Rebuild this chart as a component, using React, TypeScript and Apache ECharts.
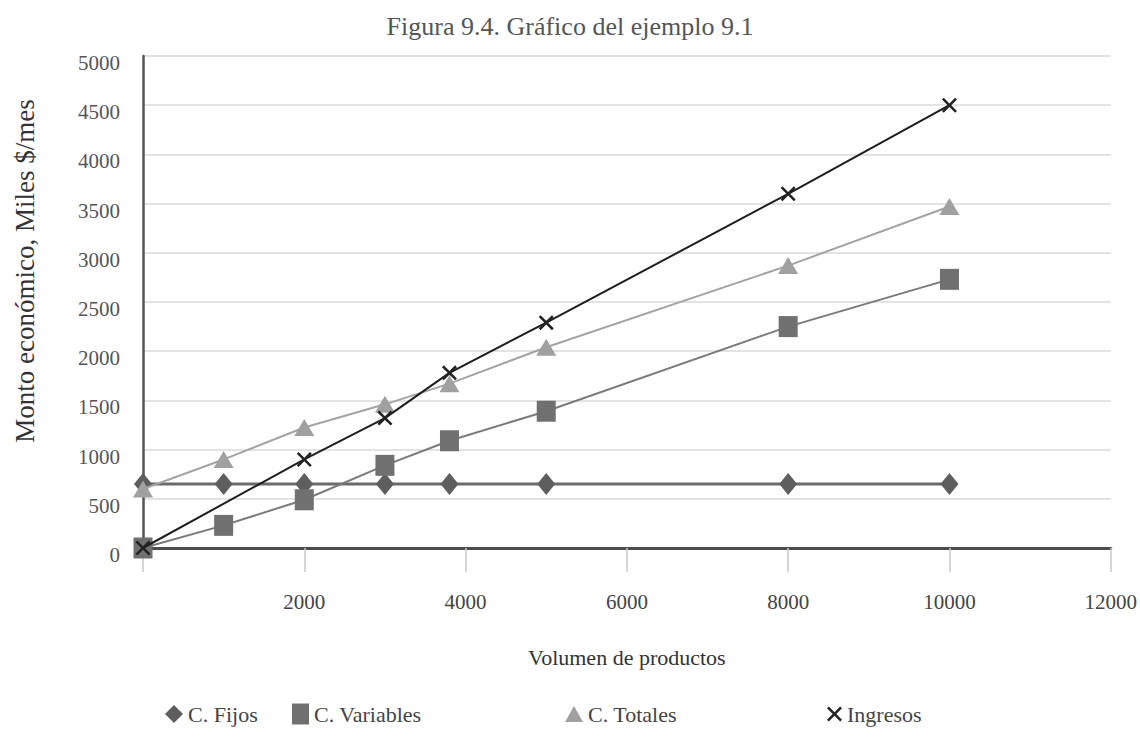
import React, { useEffect, useRef } from "react";
import * as echarts from "echarts";

const titleText = "Figura 9.4. Gráfico del ejemplo 9.1";
const xAxisName = "Volumen de productos";
const yAxisName = "Monto económico, Miles $/mes";
const seriesNames = ["C. Fijos", "C. Variables", "C. Totales", "Ingresos"];

const volumes = [0, 1000, 2000, 3000, 3800, 5000, 8000, 10000];
const fijos = [650, 650, 650, 650, 650, 650, 650, 650];
const variables = [0, 230, 490, 840, 1090, 1390, 2250, 2730];
const totales = [600, 900, 1225, 1460, 1670, 2040, 2870, 3470];
const ingresosVolumes = [0, 2000, 3000, 3800, 5000, 8000, 10000];
const ingresos = [0, 900, 1320, 1780, 2290, 3600, 4500];

const xTicks = [0, 2000, 4000, 6000, 8000, 10000, 12000];
const yTicks = [0, 500, 1000, 1500, 2000, 2500, 3000, 3500, 4000, 4500, 5000];

const FONT = "'Liberation Serif', 'DejaVu Serif', serif";
const CROSS =
  "path://M0,1.2 L1.2,0 L5,3.8 L8.8,0 L10,1.2 L6.2,5 L10,8.8 L8.8,10 L5,6.2 L1.2,10 L0,8.8 L3.8,5 Z";

const pairs = (xs: number[], ys: number[]) => xs.map((x, i) => [x, ys[i]]);

export default function App() {
  const ref = useRef<HTMLDivElement>(null);
  useEffect(() => {
    document.body.style.margin = "0";
    if (!ref.current) return;
    const chart = echarts.init(ref.current, null, { renderer: "svg" });
    const legendBase = {
      top: 698,
      itemGap: 0,
      textStyle: { fontFamily: FONT, fontSize: 22, color: "#444" },
      itemWidth: 18,
      itemHeight: 18,
    };
    chart.setOption({
      animation: false,
      backgroundColor: "#ffffff",
      title: {
        text: titleText,
        left: 565,
        textAlign: "center",
        top: 8,
        textStyle: { fontFamily: FONT, fontSize: 26, fontWeight: "normal", color: "#555" },
      },
      graphic: [
        {
          type: "text",
          x: 25,
          y: 271,
          rotation: Math.PI / 2,
          style: {
            text: yAxisName,
            fontFamily: FONT,
            fontSize: 27,
            fill: "#333",
            textAlign: "center",
            textVerticalAlign: "middle",
          },
        },
      ],
      legend: [
        { ...legendBase, left: 160, data: [{ name: seriesNames[0], icon: "diamond" }] },
        { ...legendBase, left: 287, data: [{ name: seriesNames[1], icon: "rect" }], itemWidth: 17, itemHeight: 21 },
        { ...legendBase, left: 560, data: [{ name: seriesNames[2], icon: "triangle" }], itemHeight: 16 },
        { ...legendBase, left: 822, data: [{ name: seriesNames[3], icon: CROSS }], itemWidth: 15, itemHeight: 15 },
      ],
      grid: { left: 143, right: 26, top: 56, bottom: 198, containLabel: false },
      xAxis: {
        type: "value",
        min: xTicks[0],
        max: xTicks[xTicks.length - 1],
        interval: 2000,
        name: xAxisName,
        nameLocation: "middle",
        nameGap: 98,
        nameTextStyle: { fontFamily: FONT, fontSize: 22, color: "#333" },
        axisLine: { show: true, onZero: false, lineStyle: { color: "#4d4d4d", width: 3 } },
        axisTick: { show: true, length: 24, lineStyle: { color: "#c8c8c8", width: 1.5 } },
        axisLabel: {
          margin: 43,
          fontFamily: FONT,
          fontSize: 21,
          color: "#444",
          formatter: (v: number) => (v === 0 ? "" : String(v)),
        },
        splitLine: { show: false },
      },
      yAxis: {
        type: "value",
        min: yTicks[0],
        max: yTicks[yTicks.length - 1],
        interval: 500,
        axisLine: { show: true, lineStyle: { color: "#555", width: 2.5 } },
        axisTick: { show: false },
        axisLabel: {
          margin: 23,
          formatter: (v: number) => "{a|" + String(v) + "}",
          rich: {
            a: {
              fontFamily: FONT,
              fontSize: 21,
              color: "#555",
              padding: [14, 0, 0, 0],
            },
          },
        },
        splitLine: { show: true, lineStyle: { color: "#dadada", width: 1.5 } },
      },
      series: [
        {
          name: seriesNames[0],
          type: "line",
          data: pairs(volumes, fijos),
          symbol: "diamond",
          symbolSize: [18, 22],
          lineStyle: { color: "#6a6a6a", width: 3 },
          itemStyle: { color: "#5e5e5e" },
          z: 2,
        },
        {
          name: seriesNames[2],
          type: "line",
          data: pairs(volumes, totales),
          symbol: "triangle",
          symbolSize: [20, 17],
          lineStyle: { color: "#a4a4a4", width: 2 },
          itemStyle: { color: "#a0a0a0" },
          z: 3,
        },
        {
          name: seriesNames[1],
          type: "line",
          data: pairs(volumes, variables),
          symbol: "rect",
          symbolSize: [19, 21],
          lineStyle: { color: "#7a7a7a", width: 2 },
          itemStyle: { color: "#707070" },
          z: 4,
        },
        {
          name: seriesNames[3],
          type: "line",
          data: pairs(ingresosVolumes, ingresos),
          symbol: CROSS,
          symbolSize: 15,
          lineStyle: { color: "#1e1e1e", width: 2 },
          itemStyle: { color: "#222" },
          z: 5,
        },
      ],
    });
    return () => chart.dispose();
  }, []);
  return <div ref={ref} style={{ width: 1140, height: 746 }} />;
}
